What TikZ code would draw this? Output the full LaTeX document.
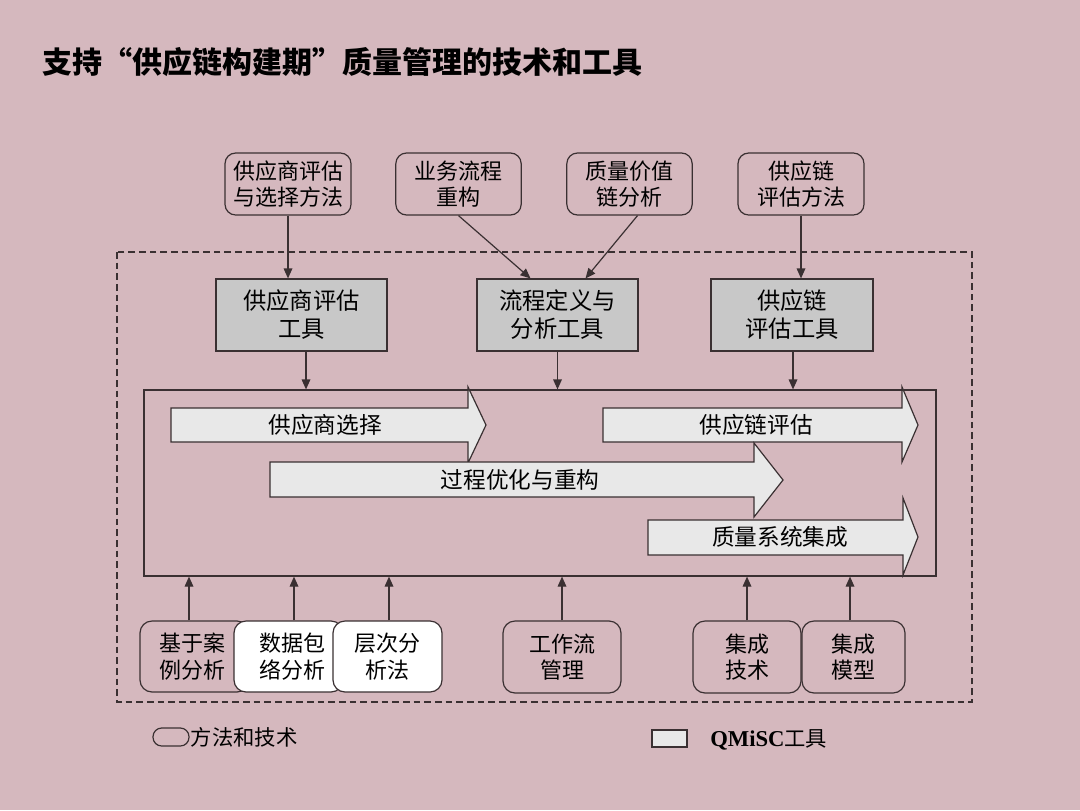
\documentclass[tikz,border=0pt]{standalone}
\usepackage{fontspec}
\setmainfont{Noto Sans CJK SC}
\newfontfamily\latinserif{Liberation Serif}
\usetikzlibrary{arrows.meta,calc,fit}
\definecolor{bg}{RGB}{213,184,190}
\definecolor{ln}{RGB}{58,48,50}
\definecolor{toolfill}{RGB}{200,200,200}
\definecolor{arrfill}{RGB}{232,232,232}
\begin{document}
\begin{tikzpicture}[x=0.75pt,y=-0.75pt,
  method/.style={draw=ln, line width=0.9pt, rounded corners=8pt, align=center,
    font=\fontsize{16.5}{20}\selectfont, inner sep=0pt},
  tool/.style={draw=ln, fill=toolfill, line width=0.9pt, align=center,
    font=\fontsize{17.5}{21}\selectfont, inner sep=0pt},
  arr/.style={draw=ln, line width=0.9pt, -{Triangle[length=7.5pt,width=6.5pt]}},
  blk/.style={draw=ln, fill=arrfill, line width=0.9pt, line join=miter},
  blktxt/.style={font=\fontsize{17}{20}\selectfont, inner sep=0pt},
  lgtxt/.style={font=\fontsize{16}{19}\selectfont, inner sep=0pt, anchor=west}]
% background
\fill[bg] (0,0) rectangle (1080,810);
\useasboundingbox (0,0) rectangle (1080,810);
% title
\node[anchor=west, inner sep=0pt, font=\fontsize{22.5}{26}\selectfont\bfseries] (title) at (42,62)
  {支持“供应链构建期”质量管理的技术和工具};
% dashed frame
\draw[ln, line width=0.9pt, dash pattern=on 5pt off 3pt] (117,252) rectangle (972,702);
% top method boxes
\node[method, minimum width=94.5pt, minimum height=46.5pt] (b1) at (288,184) {供应商评估\\与选择方法};
\node[method, minimum width=94pt, minimum height=46.5pt] (b2) at (458.5,184) {业务流程\\重构};
\node[method, minimum width=94pt, minimum height=46.5pt] (b3) at (629.5,184) {质量价值\\链分析};
\node[method, minimum width=94.5pt, minimum height=46.5pt] (b4) at (801,184) {供应链\\评估方法};
% tool boxes
\node[tool, minimum width=128.25pt, minimum height=54pt] (g1) at (301.5,315) {供应商评估\\工具};
\node[tool, minimum width=120.75pt, minimum height=54pt] (g2) at (557.5,315) {流程定义与\\分析工具};
\node[tool, minimum width=121.5pt, minimum height=54pt] (g3) at (792,315) {供应链\\评估工具};
% arrows method -> tool
\draw[arr] (b1.south) -- (b1.south |- g1.north);
\draw[arr] (b2.south) -- ($(g2.north)+(-27,0)$);
\draw[arr] ($(b3.south)+(8,0)$) -- ($(g2.north)+(28,0)$);
\draw[arr] (b4.south) -- (b4.south |- g3.north);
% main rectangle
\node[draw=ln, line width=0.9pt, inner sep=0pt, fit={(144,390)(936,576)}] (main) {};
% arrows tool -> main
\path ($(g1.south)+(4.5,0)$) coordinate (g1s);
\draw[arr] (g1s) -- (g1s |- main.north);
\draw[arr] (g2.south) -- (g2.south |- main.north);
\path ($(g3.south)+(1,0)$) coordinate (g3s);
\draw[arr] (g3s) -- (g3s |- main.north);
% block arrows
\draw[blk] (171,408) -- (468,408) -- (468,387) -- (486,425) -- (468,463) -- (468,442) -- (171,442) -- cycle;
\node[blktxt] (t1) at (325,425) {供应商选择};
\draw[blk] (603,408) -- (902,408) -- (902,387) -- (918,425) -- (902,462) -- (902,442) -- (603,442) -- cycle;
\node[blktxt] (t2) at (756,425) {供应链评估};
\draw[blk] (270,462) -- (754,462) -- (754,443) -- (783,480) -- (754,517) -- (754,497) -- (270,497) -- cycle;
\node[blktxt] (t3) at (520,480) {过程优化与重构};
\draw[blk] (648,520) -- (903,520) -- (903,498) -- (918,537) -- (903,575) -- (903,555) -- (648,555) -- cycle;
\node[blktxt] (t4) at (780,537) {质量系统集成};
% bottom method boxes
\node[method, minimum width=81.75pt, minimum height=53.25pt, rounded corners=9pt] (m1) at (194.5,656.5) {\hspace*{-3pt}基于案\\\hspace*{-3pt}例分析};
\node[method, fill=white, minimum width=81.75pt, minimum height=53.25pt, rounded corners=9pt] (m2) at (288.5,656.5) {\hspace*{6pt}数据包\\\hspace*{6pt}络分析};
\node[method, fill=white, minimum width=81.75pt, minimum height=53.25pt, rounded corners=9pt] (m3) at (387.5,656.5) {层次分\\析法};
\node[method, minimum width=88.5pt, minimum height=54pt, rounded corners=9pt] (m4) at (562,657) {工作流\\管理};
\node[method, minimum width=81pt, minimum height=54pt, rounded corners=9pt] (m5) at (747,657) {集成\\技术};
\node[method, minimum width=77.25pt, minimum height=54pt, rounded corners=9pt] (m6) at (853.5,657) {集成\\模型};
% arrows bottom -> main
\path ($(m1.north)+(-5.5,0)$) coordinate (m1n);
\draw[arr] (m1n) -- (m1n |- main.south);
\path ($(m2.north)+(5.5,0)$) coordinate (m2n);
\draw[arr] (m2n) -- (m2n |- main.south);
\path ($(m3.north)+(1.5,0)$) coordinate (m3n);
\draw[arr] (m3n) -- (m3n |- main.south);
\draw[arr] (m4.north) -- (m4.north |- main.south);
\draw[arr] (m5.north) -- (m5.north |- main.south);
\path ($(m6.north)+(-3.5,0)$) coordinate (m6n);
\draw[arr] (m6n) -- (m6n |- main.south);
% legend
\node[draw=ln, line width=0.9pt, rounded corners=6.5pt, minimum width=27pt, minimum height=13.5pt, inner sep=0pt] (lg1) at (171,737) {};
\node[lgtxt] (lg1t) at ($(lg1.east)+(1,0)$) {方法和技术};
\node[draw=ln, line width=0.9pt, fill=arrfill, minimum width=26.25pt, minimum height=12.75pt, inner sep=0pt] (lg2) at (669.5,738.5) {};
\node[lgtxt] (lg2t) at (710,740) {{\latinserif\bfseries\fontsize{17}{19}\selectfont QMiSC}工具};
\end{tikzpicture}
\end{document}
